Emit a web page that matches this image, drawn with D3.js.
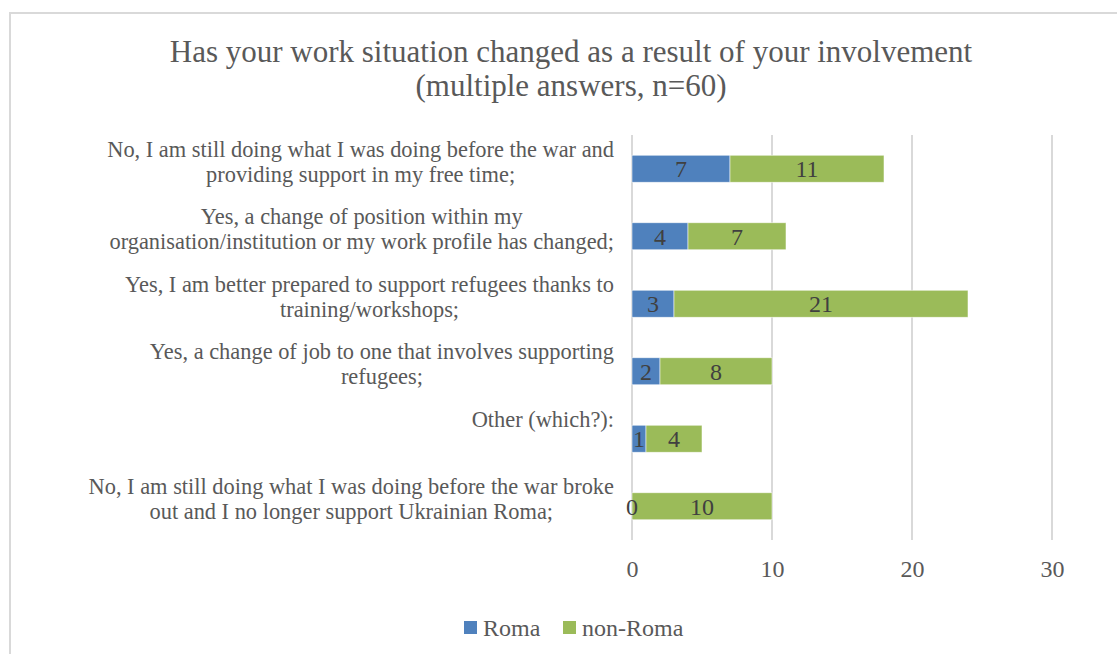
<!DOCTYPE html>
<html>
<head>
<meta charset="utf-8">
<script src="https://cdn.jsdelivr.net/npm/d3@7"></script>
<style>
  html, body { margin: 0; padding: 0; background: #fff; }
  svg { display: block; }
  text { font-family: "Liberation Serif", "DejaVu Serif", serif; }
</style>
</head>
<body>
<svg id="chart" width="1117" height="654"></svg>
<script>
// Answer options (each line of a wrapped label is one string)
const categories = [
  ["No, I am still doing what I was doing before the war and", "providing support in my free time;"],
  ["Yes, a change of position within my", "organisation/institution or my work profile has changed;"],
  ["Yes, I am better prepared to support refugees thanks to", "training/workshops;"],
  ["Yes, a change of job to one that involves supporting", "refugees;"],
  ["Other (which?):"],
  ["No, I am still doing what I was doing before the war broke", "out and I no longer support Ukrainian Roma;"]
];
const seriesNames = ["Roma", "non-Roma"];
const roma = [7, 4, 3, 2, 1, 0];
const nonRoma = [11, 7, 21, 8, 4, 10];
const xTicks = [0, 10, 20, 30];
const colors = ["#4f81bd", "#9bbb59"];
const titleLines = ["Has your work situation changed as a result of your involvement", "(multiple answers, n=60)"];

const svg = d3.select("#chart");

// outer chart frame
svg.append("path")
  .attr("d", "M10,654 V13 H1117")
  .attr("fill", "none")
  .attr("stroke", "#d9d9d9")
  .attr("stroke-width", 2);

// title
svg.selectAll("text.title")
  .data(titleLines)
  .join("text")
  .attr("class", "title")
  .attr("x", 571)
  .attr("y", (d, i) => 62 + i * 34)
  .attr("text-anchor", "middle")
  .attr("font-size", 31)
  .attr("fill", "#595959")
  .text(d => d);

const x = d3.scaleLinear().domain([0, 30]).range([632, 1052]);
const y = d3.scaleBand().domain(d3.range(categories.length)).range([135, 540]).paddingInner(0.6).paddingOuter(0.3);

// vertical gridlines
svg.append("g")
  .selectAll("line")
  .data(xTicks)
  .join("line")
  .attr("x1", d => x(d)).attr("x2", d => x(d))
  .attr("y1", 135).attr("y2", 540)
  .attr("stroke", "#d9d9d9")
  .attr("stroke-width", 2);

// x-axis tick labels
const xAxis = d3.axisBottom(x).tickValues(xTicks).tickSize(0).tickPadding(0);
const gx = svg.append("g").attr("transform", "translate(0,577)").call(xAxis);
gx.select(".domain").remove();
gx.selectAll("text")
  .attr("dy", 0)
  .attr("font-size", 24)
  .attr("font-family", null)
  .attr("fill", "#595959");

// stacked data
const rows = categories.map((c, i) => ({ i, Roma: roma[i], "non-Roma": nonRoma[i] }));
const stacked = d3.stack().keys(seriesNames)(rows);

const layers = svg.append("g")
  .selectAll("g")
  .data(stacked)
  .join("g")
  .attr("fill", (d, k) => colors[k]);

layers.selectAll("rect")
  .data(d => d)
  .join("rect")
  .attr("x", d => x(d[0]))
  .attr("width", d => x(d[1]) - x(d[0]))
  .attr("y", d => y(d.data.i))
  .attr("height", y.bandwidth())
  .attr("stroke", "#ffffff")
  .attr("stroke-opacity", 0.7)
  .attr("stroke-width", 0.75);

// segment value labels, drawn above every bar
const labelData = stacked.flatMap(layer => layer.map(v => ({ v, key: layer.key })));
svg.append("g")
  .selectAll("text")
  .data(labelData)
  .join("text")
  .attr("x", d => x((d.v[0] + d.v[1]) / 2))
  .attr("y", d => y(d.v.data.i) + y.bandwidth() / 2)
  .attr("dy", "0.35em")
  .attr("text-anchor", "middle")
  .attr("font-size", 24)
  .attr("fill", "#404040")
  .text(d => d.v.data[d.key]);

// category labels: each block centred on itself, widest line ending at the right edge
const labelRight = 614;
categories.forEach((lines, i) => {
  const g = svg.append("g");
  const cy = y(i) + y.bandwidth() / 2;
  const texts = g.selectAll("text")
    .data(lines)
    .join("text")
    .attr("y", (d, j) => cy - 20 + j * 25)
    .attr("dy", "0.35em")
    .attr("text-anchor", "middle")
    .attr("font-size", 22.4)
    .attr("fill", "#595959")
    .text(d => d);
  let maxW = 0;
  texts.each(function () { maxW = Math.max(maxW, this.getComputedTextLength()); });
  texts.attr("x", labelRight - maxW / 2);
});

// legend
const legend = svg.append("g");
const legendItems = [{ name: seriesNames[0], x: 464 }, { name: seriesNames[1], x: 563 }];
legendItems.forEach((it, k) => {
  legend.append("rect")
    .attr("x", it.x).attr("y", 621)
    .attr("width", 13).attr("height", 13)
    .attr("fill", colors[k]);
  legend.append("text")
    .attr("x", it.x + 19).attr("y", 628)
    .attr("dy", "0.35em")
    .attr("font-size", 24)
    .attr("fill", "#595959")
    .text(it.name);
});
</script>
</body>
</html>
